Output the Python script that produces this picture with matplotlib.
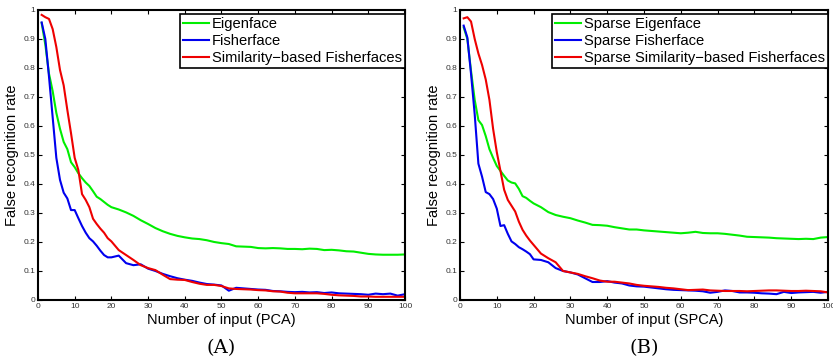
import matplotlib
matplotlib.use("Agg")
import matplotlib.pyplot as plt
from matplotlib.ticker import FuncFormatter

# shared x grid (number of inputs)
x_vals = list(range(1, 21)) + list(range(22, 101, 2))

# panel (A): PCA
eig_a = [0.955, 0.88, 0.78, 0.72, 0.645, 0.59, 0.545, 0.52, 0.475, 0.458,
         0.437, 0.42, 0.405, 0.393, 0.375, 0.356, 0.348, 0.338, 0.328, 0.32,
         0.312, 0.302, 0.29, 0.275, 0.262, 0.248, 0.237, 0.228, 0.221, 0.216,
         0.212, 0.21, 0.206, 0.2, 0.196, 0.193, 0.185, 0.184, 0.183, 0.179,
         0.178, 0.179, 0.178, 0.176, 0.176, 0.175, 0.177, 0.176, 0.172, 0.173,
         0.171, 0.168, 0.167, 0.163, 0.159, 0.157, 0.156, 0.156, 0.156, 0.157]
fish_a = [0.957, 0.9, 0.77, 0.63, 0.49, 0.414, 0.37, 0.35, 0.31, 0.31,
          0.282, 0.255, 0.232, 0.213, 0.202, 0.187, 0.17, 0.155, 0.147, 0.147,
          0.153, 0.127, 0.12, 0.123, 0.108, 0.1, 0.09, 0.082, 0.075, 0.07,
          0.066, 0.06, 0.055, 0.053, 0.05, 0.032, 0.042, 0.04, 0.038, 0.036,
          0.035, 0.031, 0.03, 0.028, 0.027, 0.028, 0.026, 0.027, 0.024, 0.026,
          0.023, 0.022, 0.021, 0.02, 0.018, 0.022, 0.02, 0.022, 0.015, 0.02]
sim_a = [0.983, 0.975, 0.969, 0.934, 0.872, 0.793, 0.74, 0.655, 0.575, 0.49,
         0.448, 0.365, 0.345, 0.32, 0.28, 0.262, 0.246, 0.232, 0.213, 0.202,
         0.172, 0.155, 0.138, 0.12, 0.11, 0.103, 0.087, 0.072, 0.07, 0.069,
         0.062, 0.056, 0.052, 0.052, 0.048, 0.04, 0.038, 0.037, 0.036, 0.034,
         0.033, 0.03, 0.029, 0.025, 0.023, 0.023, 0.023, 0.023, 0.021, 0.018,
         0.016, 0.015, 0.014, 0.012, 0.012, 0.011, 0.011, 0.011, 0.011, 0.011]

# panel (B): SPCA
eig_b = [0.94, 0.9, 0.79, 0.69, 0.62, 0.603, 0.565, 0.52, 0.49, 0.462,
         0.445, 0.428, 0.412, 0.405, 0.402, 0.383, 0.358, 0.352, 0.342, 0.333,
         0.32, 0.303, 0.293, 0.287, 0.282, 0.274, 0.267, 0.259, 0.258, 0.256,
         0.251, 0.247, 0.243, 0.243, 0.24, 0.238, 0.236, 0.234, 0.232, 0.23,
         0.232, 0.235, 0.231, 0.23, 0.23, 0.228, 0.225, 0.222, 0.218, 0.217,
         0.216, 0.215, 0.213, 0.212, 0.211, 0.21, 0.211, 0.21, 0.215, 0.217]
fish_b = [0.946, 0.905, 0.78, 0.64, 0.47, 0.425, 0.372, 0.365, 0.348, 0.315,
          0.255, 0.258, 0.228, 0.202, 0.193, 0.182, 0.175, 0.167, 0.158, 0.14,
          0.138, 0.13, 0.11, 0.1, 0.095, 0.088, 0.075, 0.062, 0.062, 0.065,
          0.06, 0.057, 0.05, 0.047, 0.046, 0.043, 0.04, 0.037, 0.035, 0.034,
          0.033, 0.032, 0.03, 0.025, 0.028, 0.033, 0.031, 0.026, 0.026, 0.025,
          0.023, 0.022, 0.02, 0.028, 0.024, 0.026, 0.027, 0.028, 0.025, 0.028]
sim_b = [0.971, 0.975, 0.96, 0.9, 0.85, 0.81, 0.76, 0.69, 0.59, 0.51,
         0.445, 0.38, 0.345, 0.325, 0.305, 0.27, 0.242, 0.222, 0.205, 0.19,
         0.16, 0.144, 0.13, 0.1, 0.095, 0.09, 0.082, 0.075, 0.067, 0.063,
         0.063, 0.06, 0.057, 0.052, 0.049, 0.047, 0.045, 0.042, 0.04, 0.037,
         0.034, 0.035, 0.036, 0.033, 0.032, 0.031, 0.031, 0.031, 0.03, 0.031,
         0.032, 0.033, 0.033, 0.032, 0.031, 0.031, 0.032, 0.031, 0.03, 0.026]

labels_a = ["Eigenface", "Fisherface", "Similarity\u2212based Fisherfaces"]
labels_b = ["Sparse Eigenface", "Sparse Fisherface",
            "Sparse Similarity\u2212based Fisherfaces"]
colors = ["#00ee00", "#0000ee", "#ee0000"]

x_ticks = list(range(0, 101, 10))
y_ticks = [0, 0.1, 0.2, 0.3, 0.4, 0.5, 0.6, 0.7, 0.8, 0.9, 1]

plt.rcParams["font.family"] = ["Liberation Sans", "DejaVu Sans"]

fig = plt.figure(figsize=(8.33, 3.63), dpi=100)

panels = [
    ([0.0456, 0.1736, 0.4406, 0.799], [eig_a, fish_a, sim_a], labels_a,
     "Number of input (PCA)", "(A)"),
    ([0.5522, 0.1736, 0.4418, 0.799], [eig_b, fish_b, sim_b], labels_b,
     "Number of input (SPCA)", "(B)"),
]

for rect, series, labels, xlabel, caption in panels:
    ax = fig.add_axes(rect)
    for ys, c, lab in zip(series, colors, labels):
        ax.plot(x_vals, ys, color=c, lw=1.5, label=lab)
    ax.set_xlim(0, 100)
    ax.set_ylim(0, 1)
    ax.set_xticks(x_ticks)
    ax.set_yticks(y_ticks)
    ax.yaxis.set_major_formatter(FuncFormatter(lambda v, p: f"{v:g}"))
    ax.tick_params(direction="in", length=3, width=0.8, labelsize=6,
                   top=True, right=True, pad=2, labelcolor="#333333")
    for s in ax.spines.values():
        s.set_linewidth(1.5)
    ax.set_xlabel(xlabel, fontsize=10.5, labelpad=2)
    ax.set_ylabel("False recognition rate", fontsize=10.5, labelpad=3)
    leg = ax.legend(loc="upper right", bbox_to_anchor=(0.999, 0.986),
                    fontsize=10.6, fancybox=False, edgecolor="black",
                    framealpha=1, handlelength=1.8, handletextpad=0.15,
                    borderpad=0.2, labelspacing=0.2, borderaxespad=0)
    leg.get_frame().set_linewidth(1.2)
    # caption below each panel
    cx = rect[0] + rect[2] / 2
    fig.text(cx, 0.041, caption, ha="center", va="center", fontsize=14,
             family="DejaVu Serif")

fig.savefig("out.png", dpi=100)
